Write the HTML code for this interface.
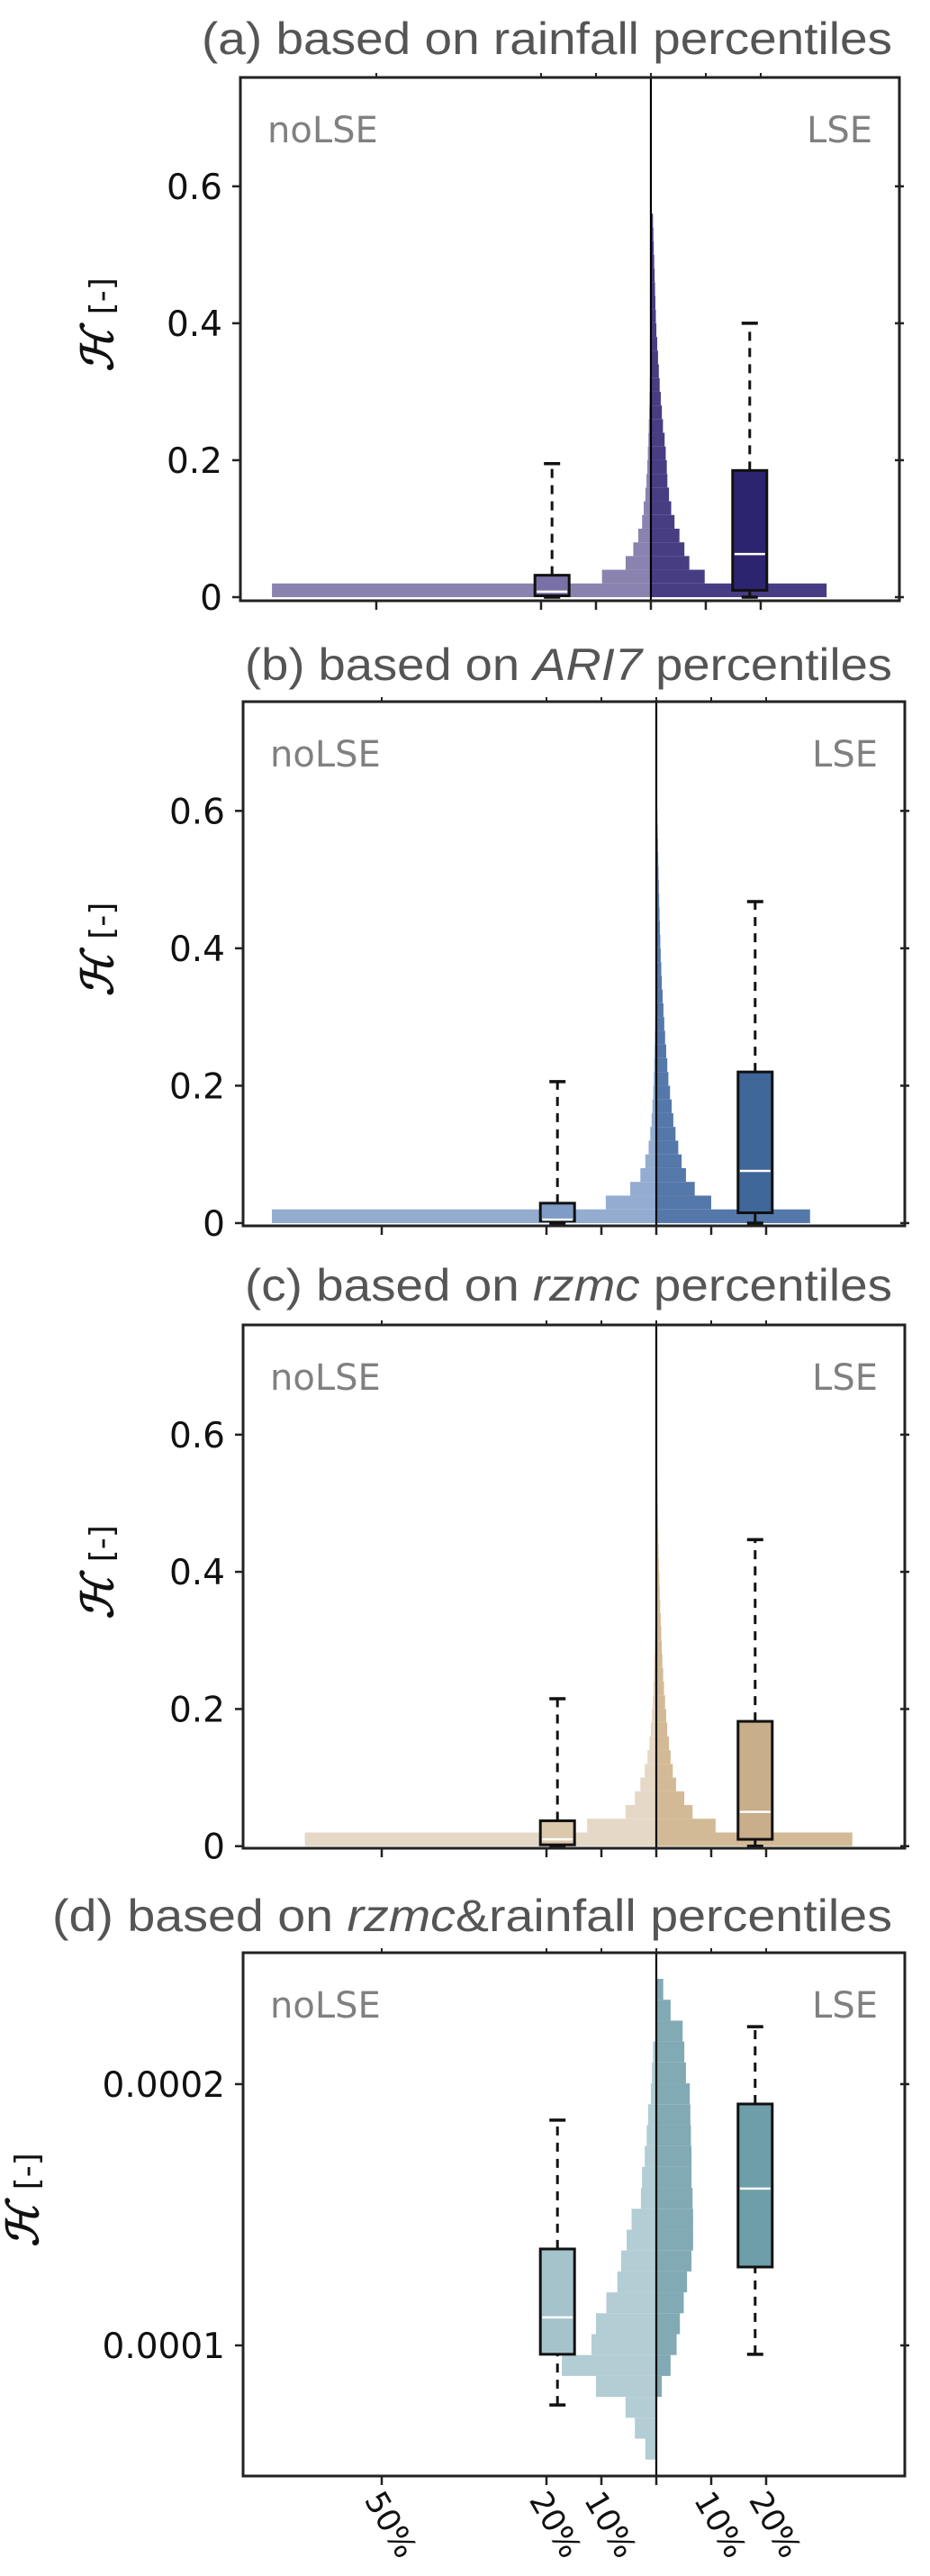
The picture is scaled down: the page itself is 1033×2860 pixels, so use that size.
<!DOCTYPE html>
<html><head><meta charset="utf-8">
<style>
html,body{margin:0;padding:0;background:#fff;}
svg{display:block;}
.tk{font-family:"DejaVu Sans","Liberation Sans",sans-serif;font-size:39px;fill:#111;}
.ttl{font-family:"Liberation Sans",sans-serif;font-size:50px;fill:#555;}
.grp{font-family:"DejaVu Sans","Liberation Sans",sans-serif;font-size:40px;fill:#808080;}
</style></head>
<body>
<svg id="fig" width="1033" height="2860" viewBox="0 0 1033 2860" xmlns="http://www.w3.org/2000/svg"></svg>
<script>
// ---- data (histogram bin widths in % of events, bins of 0.02 from 0 upwards) ----
const aNoLSE = [69, 8.9, 4.6, 3.2, 2.3, 1.6, 1.3, 1.0, 0.8, 0.65, 0.55, 0.45, 0.38, 0.3, 0.25, 0.2, 0.15, 0.12, 0.1, 0.08];
const aLSE = [32, 9.8, 7.0, 6.1, 5.2, 4.3, 3.7, 3.3, 3.0, 2.9, 2.7, 2.5, 2.2, 2.0, 1.8, 1.6, 1.45, 1.3, 1.15, 1.0, 0.9, 0.82, 0.75, 0.68, 0.6, 0.52, 0.45, 0.38];
const bNoLSE = [70, 9.2, 4.75, 2.9, 2.0, 1.4, 1.1, 0.85, 0.7, 0.55, 0.45, 0.38, 0.3, 0.25, 0.2, 0.15, 0.12, 0.1, 0.08, 0.06];
const bLSE = [28, 10, 7, 5.4, 4.6, 4.0, 3.5, 3.1, 2.8, 2.5, 2.2, 2.0, 1.8, 1.6, 1.45, 1.3, 1.15, 1.0, 0.9, 0.8, 0.72, 0.65, 0.58, 0.52, 0.46, 0.4, 0.35, 0.3, 0.25, 0.2, 0.15];
const cNoLSE = [64, 12.6, 5.6, 3.9, 2.9, 2.1, 1.6, 1.25, 1.0, 0.8, 0.65, 0.52, 0.42, 0.35, 0.28, 0.22, 0.17, 0.13, 0.1, 0.08, 0.06];
const cLSE = [35.7, 10.8, 6.6, 5.1, 3.6, 3.0, 2.6, 2.3, 2.0, 1.8, 1.6, 1.4, 1.25, 1.1, 1.0, 0.9, 0.8, 0.7, 0.62, 0.55, 0.48, 0.42, 0.37, 0.32, 0.28, 0.24, 0.2, 0.16, 0.12];
// panel d: bins listed from top (0.0002403) downward, width 0.000008
const dNoLSE = [0, 0, 0, 0.6, 0.8, 1.0, 1.5, 1.75, 2.1, 2.6, 2.8, 4.5, 5.4, 6.4, 7.1, 9.1, 11.0, 11.8, 17.2, 11.0, 5.6, 3.9, 2.0];
const dLSE = [1.26, 2.6, 4.8, 5.1, 5.4, 6.1, 6.2, 6.3, 6.4, 6.4, 6.6, 6.7, 6.7, 6.4, 5.6, 5.0, 4.3, 3.7, 2.6, 1.0, 0, 0, 0];
// boxplot stats [whiskerLow, q1, median, q3, whiskerHigh]
const aBoxNoLSE = [0, 0.002, 0.008, 0.032, 0.195];
const aBoxLSE = [0, 0.01, 0.063, 0.185, 0.40];
const bBoxNoLSE = [0, 0.003, 0.005, 0.029, 0.206];
const bBoxLSE = [0, 0.015, 0.076, 0.22, 0.468];
const cBoxNoLSE = [0, 0.002, 0.01, 0.037, 0.215];
const cBoxLSE = [0, 0.01, 0.05, 0.182, 0.447];
const dBoxNoLSE = [0.0000772, 0.0000966, 0.0001107, 0.0001369, 0.0001862];
const dBoxLSE = [0.0000966, 0.00013, 0.00016, 0.0001924, 0.000222];
// ticks
const yTicksABC = [0, 0.2, 0.4, 0.6];
const yTickLabelsABC = ["0", "0.2", "0.4", "0.6"];
const yTicksD = [0.0001, 0.0002];
const yTickLabelsD = ["0.0001", "0.0002"];
const xTicks = [-50, -20, -10, 0, 10, 20];
const xTickLabels = ["50%", "20%", "10%", "", "10%", "20%"];
const boxPos = [-18, 18];

const NS = "http://www.w3.org/2000/svg";
const svg = document.getElementById("fig");
function mk(tag, attrs, parent, name, inter) {
  const e = document.createElementNS(NS, tag);
  for (const k in attrs) e.setAttribute(k, attrs[k]);
  
  
  (parent || svg).appendChild(e);
  return e;
}

const panels = [
  {id: "a", title: ["(a) based on rainfall percentiles"], titleY: 60, tx0: 224, tx1: 991,
   L: 267, R: 999, T: 86, B: 667, xmin: -74.75, xmax: 45.25, ymin: -0.0053, ymax: 0.759,
   noL: aNoLSE, lse: aLSE, bw: 0.02, base: 0, fromTop: false, boxN: aBoxNoLSE, boxL: aBoxLSE,
   yt: yTicksABC, ytl: yTickLabelsABC, light: "#8a83b0", dark: "#473d83", boxLight: "#7a70a8", boxDark: "#2d2470", ylabX: 125},
  {id: "b", title: ["(b) based on ", "ARI7", " percentiles"], titleY: 755, tx0: 272, tx1: 991,
   L: 270, R: 1005, T: 779, B: 1361, xmin: -75.25, xmax: 45.25, ymin: -0.004, ymax: 0.759,
   noL: bNoLSE, lse: bLSE, bw: 0.02, base: 0, fromTop: false, boxN: bBoxNoLSE, boxL: bBoxLSE,
   yt: yTicksABC, ytl: yTickLabelsABC, light: "#93acd0", dark: "#5578aa", boxLight: "#7f9cc6", boxDark: "#3e6699", ylabX: 125},
  {id: "c", title: ["(c) based on ", "rzmc", " percentiles"], titleY: 1444, tx0: 272, tx1: 991,
   L: 270, R: 1005, T: 1471, B: 2052, xmin: -75.25, xmax: 45.25, ymin: -0.003, ymax: 0.76,
   noL: cNoLSE, lse: cLSE, bw: 0.02, base: 0, fromTop: false, boxN: cBoxNoLSE, boxL: cBoxLSE,
   yt: yTicksABC, ytl: yTickLabelsABC, light: "#e5d8c6", dark: "#d3ba96", boxLight: "#dcc8ab", boxDark: "#c8ae8a", ylabX: 125},
  {id: "d", title: ["(d) based on ", "rzmc", "&rainfall percentiles"], titleY: 2144, tx0: 58, tx1: 991,
   L: 270, R: 1005, T: 2168, B: 2749, xmin: -75.25, xmax: 45.25, ymin: 0.00005, ymax: 0.0002503,
   noL: dNoLSE, lse: dLSE, bw: 0.000008, base: 0.0002403, fromTop: true, boxN: dBoxNoLSE, boxL: dBoxLSE,
   yt: yTicksD, ytl: yTickLabelsD, light: "#b3cdd4", dark: "#82aab5", boxLight: "#a5c3cb", boxDark: "#6e9ea8", ylabX: 42}
];

panels.forEach(p => {
  const g = mk("g", {}, svg, "panel-" + p.id, false);
  const X = v => p.L + (v - p.xmin) / (p.xmax - p.xmin) * (p.R - p.L);
  const Y = v => p.B - (v - p.ymin) / (p.ymax - p.ymin) * (p.B - p.T);
  // title
  const t = mk("text", {x: p.tx0, y: p.titleY, class: "ttl", textLength: p.tx1 - p.tx0, lengthAdjust: "spacingAndGlyphs"}, g, "panel-title", false);
  p.title.forEach((s, i) => {
    const ts = mk("tspan", {}, t, i === 1 ? "title-variable" : "title-text", false);
    if (i === 1) ts.setAttribute("font-style", "italic");
    ts.textContent = s;
  });
  // histograms
  const hg = mk("g", {}, g, "histogram", false);
  const x0 = X(0);
  function bin(k) {
    if (p.fromTop) { const hi = p.base - k * p.bw; return [hi - p.bw, hi]; }
    return [p.base + k * p.bw, p.base + (k + 1) * p.bw];
  }
  p.noL.forEach((v, k) => {
    if (v <= 0) return;
    const [lo, hi] = bin(k);
    mk("rect", {x: X(-v), y: Y(hi), width: x0 - X(-v), height: Y(lo) - Y(hi), fill: p.light}, hg, "hist-bar-nolse", false);
  });
  p.lse.forEach((v, k) => {
    if (v <= 0) return;
    const [lo, hi] = bin(k);
    mk("rect", {x: x0, y: Y(hi), width: X(v) - x0, height: Y(lo) - Y(hi), fill: p.dark}, hg, "hist-bar-lse", false);
  });
  // boxplots
  [[p.boxN, boxPos[0], p.boxLight, "boxplot-nolse"], [p.boxL, boxPos[1], p.boxDark, "boxplot-lse"]].forEach(([s, pos, col, nm]) => {
    const bg = mk("g", {}, g, nm, false);
    const cx = X(pos), hw = 19, cw = 9;
    mk("line", {x1: cx, x2: cx, y1: Y(s[3]), y2: Y(s[4]), stroke: "#111", "stroke-width": 3, "stroke-dasharray": "10 8"}, bg, "whisker-upper", false);
    mk("line", {x1: cx, x2: cx, y1: Y(s[0]), y2: Y(s[1]), stroke: "#111", "stroke-width": 3, "stroke-dasharray": "10 8"}, bg, "whisker-lower", false);
    mk("line", {x1: cx - cw, x2: cx + cw, y1: Y(s[4]), y2: Y(s[4]), stroke: "#111", "stroke-width": 3.5}, bg, "cap-upper", false);
    mk("line", {x1: cx - cw, x2: cx + cw, y1: Y(s[0]), y2: Y(s[0]), stroke: "#111", "stroke-width": 3.5}, bg, "cap-lower", false);
    mk("rect", {x: cx - hw, y: Y(s[3]), width: 2 * hw, height: Math.max(Y(s[1]) - Y(s[3]), 1), fill: col, stroke: "#111", "stroke-width": 3}, bg, "box", false);
    mk("line", {x1: cx - hw + 2, x2: cx + hw - 2, y1: Y(s[2]), y2: Y(s[2]), stroke: "#fff", "stroke-width": 2.5}, bg, "median-line", false);
  });
  // center line
  mk("line", {x1: x0, x2: x0, y1: p.T, y2: p.B, stroke: "#000", "stroke-width": 2.2}, g, "center-divider", false);
  // frame
  mk("rect", {x: p.L, y: p.T, width: p.R - p.L, height: p.B - p.T, fill: "none", stroke: "#222", "stroke-width": 3}, g, "axes-frame", false);
  // y ticks
  p.yt.forEach((v, i) => {
    const y = Y(v);
    mk("line", {x1: p.L - 9, x2: p.L, y1: y, y2: y, stroke: "#222", "stroke-width": 2.5}, g, "y-tick", false);
    mk("line", {x1: p.R - 5, x2: p.R + 5, y1: y, y2: y, stroke: "#222", "stroke-width": 2.5}, g, "y-tick-right", false);
    const tl = mk("text", {x: p.L - 20, y: y + 14, class: "tk", "text-anchor": "end"}, g, "y-tick-label", false);
    tl.textContent = p.ytl[i];
  });
  // x ticks
  xTicks.forEach((v, i) => {
    const x = X(v);
    mk("line", {x1: x, x2: x, y1: p.B, y2: p.B + 10, stroke: "#222", "stroke-width": 2.5}, g, "x-tick", false);
    mk("line", {x1: x, x2: x, y1: p.T, y2: p.T - 5, stroke: "#222", "stroke-width": 2}, g, "x-tick-top", false);
    if (p.id === "d" && xTickLabels[i]) {
      const cx = x + 10, cy = 2803;
      const tl = mk("text", {x: cx, y: cy + 12, class: "tk", "text-anchor": "middle", transform: "rotate(60 " + cx + " " + cy + ")"}, g, "x-tick-label", false);
      tl.setAttribute("style", "font-size:35px");
      tl.textContent = xTickLabels[i];
    }
  });
  // group labels
  const yl = p.T + 72;
  const n = mk("text", {x: p.L + 30, y: yl, class: "grp"}, g, "nolse-label", false); n.textContent = "noLSE";
  const l = mk("text", {x: p.R - 30, y: yl, class: "grp", "text-anchor": "end"}, g, "lse-label", false); l.textContent = "LSE";
  // y label
  const cy = (p.T + p.B) / 2 - 12;
  const ylab = mk("text", {x: p.ylabX + 4, y: cy, "text-anchor": "middle", transform: "rotate(-90 " + p.ylabX + " " + cy + ")", style: "font-family:'DejaVu Serif','Liberation Serif',serif;font-size:34px;fill:#111"}, g, "y-axis-title", false);
  const s1 = mk("tspan", {"font-weight": "bold", "font-style": "italic", "font-size": "48"}, ylab, "y-axis-symbol", false);
  s1.textContent = "ℋ";
  const s2 = mk("tspan", {dx: "16", style: "font-family:'DejaVu Sans',sans-serif;font-size:36px"}, ylab, "y-axis-unit", false);
  s2.textContent = "[-]";
});
</script>
</body></html>
